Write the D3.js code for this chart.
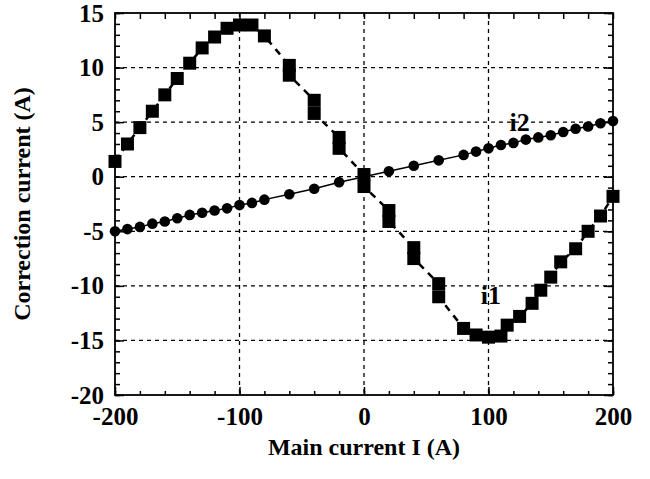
<!DOCTYPE html>
<html>
<head>
<meta charset="utf-8">
<script src="https://cdn.jsdelivr.net/npm/d3@7"></script>
<style>
  body { margin: 0; background: #fff; }
  text { font-family: "Liberation Serif", "Times New Roman", serif; font-weight: bold; }
</style>
</head>
<body>
<svg id="chart" width="650" height="479"></svg>
<script>
"use strict";

// i1 (squares, dashed line)
const i1Current = [-200, -190, -180, -170, -160, -150, -140, -130, -120, -110, -100, -90, -80,
  -60, -60, -40, -40, -20, -20, 0, 0, 20, 20, 40, 40, 60, 60,
  80, 90, 100, 110, 115, 125, 135, 142, 150, 158, 170, 180, 190, 200];
const i1Values = [1.4, 3.0, 4.5, 6.0, 7.5, 9.0, 10.4, 11.8, 12.8, 13.6, 13.9, 13.9, 12.9,
  10.2, 9.3, 7.0, 5.8, 3.6, 2.6, 0.2, -0.9, -3.1, -4.1, -6.5, -7.5, -9.8, -11.0,
  -13.9, -14.5, -14.7, -14.6, -13.6, -12.8, -11.6, -10.4, -9.2, -7.8, -6.6, -5.0, -3.6, -1.8];

// i2 (circles, solid line)
const i2Current = [-200, -190, -180, -170, -160, -150, -140, -130, -120, -110, -100, -90, -80,
  -60, -40, -20, 0, 20, 40, 60,
  80, 90, 100, 110, 120, 130, 140, 150, 160, 170, 180, 190, 200];
const i2Values = [-5.0, -4.8, -4.6, -4.3, -4.1, -3.8, -3.5, -3.3, -3.1, -2.9, -2.6, -2.4, -2.1,
  -1.6, -1.1, -0.5, 0.0, 0.5, 1.0, 1.5,
  2.0, 2.3, 2.6, 2.9, 3.1, 3.4, 3.6, 3.8, 4.1, 4.4, 4.6, 4.9, 5.1];

const xMajor = [-200, -100, 0, 100, 200];
const yMajor = [-20, -15, -10, -5, 0, 5, 10, 15];

(function() {
  const svg = d3.select("#chart");
  const left = 115, right = 613, top = 13, bottom = 395;

  const x = d3.scaleLinear().domain([-200, 200]).range([left, right]);
  const y = d3.scaleLinear().domain([-20, 15]).range([bottom, top]);

  const xMinor = d3.range(-200, 201, 20);
  const yMinor = d3.range(-20, 16, 1);
  const plain = d => String(d); // hyphen minus, like the original

  // grid
  const grid = svg.append("g")
    .attr("stroke", "#000")
    .attr("stroke-width", 1.3)
    .attr("stroke-dasharray", "4,4");
  grid.selectAll(".vg")
    .data(xMajor.slice(1, -1))
    .enter().append("line")
      .attr("x1", d => x(d)).attr("x2", d => x(d))
      .attr("y1", top).attr("y2", bottom);
  grid.selectAll(".hg")
    .data(yMajor.slice(1, -1))
    .enter().append("line")
      .attr("x1", left).attr("x2", right)
      .attr("y1", d => y(d)).attr("y2", d => y(d));

  // axes with inward ticks
  function styleAxis(g, size) {
    g.select(".domain").remove();
    g.selectAll(".tick line").attr("stroke", "#000").attr("stroke-width", 1.5);
    g.selectAll("text").attr("fill", "#000").style("font-size", (size || 26) + "px");
  }

  svg.append("g").attr("transform", `translate(0,${bottom})`)
    .call(d3.axisBottom(x).tickValues(xMinor).tickSize(-4).tickFormat(""))
    .call(styleAxis);
  svg.append("g").attr("transform", `translate(0,${bottom})`)
    .call(d3.axisBottom(x).tickValues(xMajor).tickSize(-8).tickPadding(12).tickFormat(plain))
    .call(styleAxis, 25);
  svg.append("g").attr("transform", `translate(0,${top})`)
    .call(d3.axisTop(x).tickValues(xMinor).tickSize(-6).tickFormat(""))
    .call(styleAxis);

  svg.append("g").attr("transform", `translate(${left},0)`)
    .call(d3.axisLeft(y).tickValues(yMinor).tickSize(-5).tickFormat(""))
    .call(styleAxis);
  svg.append("g").attr("transform", `translate(${left},0)`)
    .call(d3.axisLeft(y).tickValues(yMajor).tickSize(-9).tickPadding(11).tickFormat(plain))
    .call(styleAxis, 25);
  svg.append("g").attr("transform", `translate(${right},0)`)
    .call(d3.axisRight(y).tickValues(yMinor).tickSize(-5).tickFormat(""))
    .call(styleAxis);
  svg.append("g").attr("transform", `translate(${right},0)`)
    .call(d3.axisRight(y).tickValues(yMajor).tickSize(-9).tickFormat(""))
    .call(styleAxis);

  // frame
  svg.append("rect")
    .attr("x", left).attr("y", top)
    .attr("width", right - left).attr("height", bottom - top)
    .attr("fill", "none").attr("stroke", "#000").attr("stroke-width", 1.8);

  const i1 = i1Current.map((c, k) => [c, i1Values[k]]);
  const i2 = i2Current.map((c, k) => [c, i2Values[k]]);
  const line = d3.line().x(d => x(d[0])).y(d => y(d[1]));

  // i2
  svg.append("path")
    .datum(i2)
    .attr("d", line)
    .attr("fill", "none")
    .attr("stroke", "#000")
    .attr("stroke-width", 1.5);
  svg.selectAll(".c2")
    .data(i2)
    .enter().append("circle")
      .attr("cx", d => x(d[0]))
      .attr("cy", d => y(d[1]))
      .attr("r", 5.3)
      .attr("fill", "#000");

  // i1
  svg.append("path")
    .datum(i1)
    .attr("d", line)
    .attr("fill", "none")
    .attr("stroke", "#000")
    .attr("stroke-width", 2.5)
    .attr("stroke-dasharray", "7,6");
  const sq = 13;
  svg.selectAll(".s1")
    .data(i1)
    .enter().append("rect")
      .attr("x", d => x(d[0]) - sq / 2)
      .attr("y", d => y(d[1]) - sq / 2)
      .attr("width", sq)
      .attr("height", sq)
      .attr("fill", "#000");

  // series labels
  svg.append("text")
    .attr("x", x(125)).attr("y", y(4.2))
    .attr("text-anchor", "middle")
    .style("font-size", "26px")
    .text("i2");
  svg.append("text")
    .attr("x", x(102)).attr("y", y(-11.7))
    .attr("text-anchor", "middle")
    .style("font-size", "26px")
    .text("i1");

  // axis titles
  svg.append("text")
    .attr("x", (left + right) / 2).attr("y", 455)
    .attr("text-anchor", "middle")
    .style("font-size", "24px")
    .text("Main current I (A)");
  svg.append("text")
    .attr("transform", `translate(30,${(top + bottom) / 2}) rotate(-90)`)
    .attr("text-anchor", "middle")
    .style("font-size", "24px")
    .text("Correction current (A)");
})();
</script>
</body>
</html>
